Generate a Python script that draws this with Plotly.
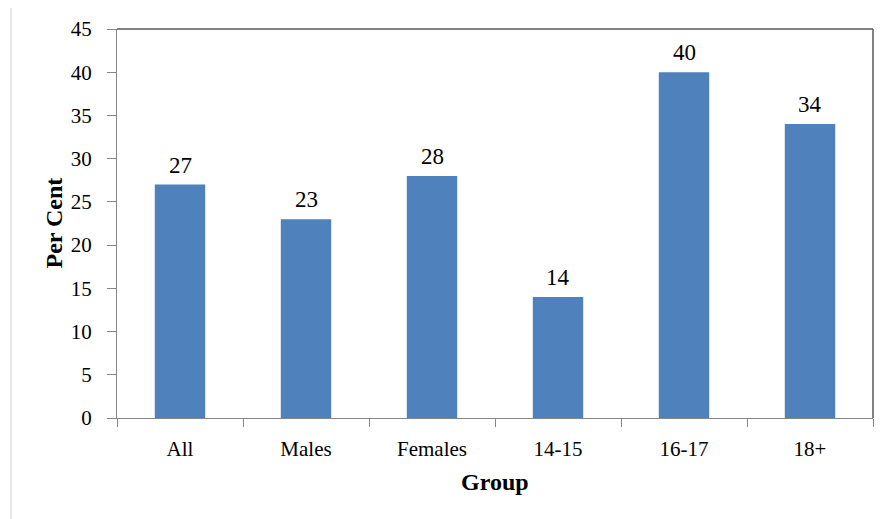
import plotly.graph_objects as go

categories = ["All", "Males", "Females", "14-15", "16-17", "18+"]
values = [27, 23, 28, 14, 40, 34]
y_ticks = [0, 5, 10, 15, 20, 25, 30, 35, 40, 45]

FONT = "Liberation Serif, Times New Roman, serif"
OFF = 8  # default page body margin
W, H = 885 - OFF, 519 - OFF
# plot area in page pixels: x 117..873, y 29..418
ML, MR, MT, MB = 117 - OFF, 885 - 873, 29 - OFF, 519 - 418
PW = W - ML - MR
PH = H - MT - MB

def px_to_paper_x(px):
    return (px - OFF - ML) / PW

def px_to_paper_y(py):
    return (H - MB - (py - OFF)) / PH

fig = go.Figure()
fig.add_trace(go.Bar(
    x=categories, y=values, width=0.4,
    marker=dict(color="#4F81BD", line=dict(width=0)),
    hoverinfo="skip",
))

annotations = []
for c, v in zip(categories, values):
    annotations.append(dict(
        x=c, y=v, xref="x", yref="y", text=str(v), showarrow=False,
        yanchor="bottom", yshift=5, font=dict(family=FONT, size=23, color="black"),
    ))
annotations.append(dict(
    x=px_to_paper_x(53), y=0.5, xref="paper", yref="paper", text="<b>Per Cent</b>",
    showarrow=False, textangle=-90, xanchor="center", yanchor="middle",
    font=dict(family=FONT, size=24, color="black"),
))
annotations.append(dict(
    x=0.5, y=px_to_paper_y(482), xref="paper", yref="paper", text="<b>Group</b>",
    showarrow=False, xanchor="center", yanchor="middle",
    font=dict(family=FONT, size=24, color="black"),
))

shapes = [
    # outer chart frame (light grey)
    dict(type="rect", xref="paper", yref="paper",
         x0=px_to_paper_x(11), x1=px_to_paper_x(885 + 20),
         y0=px_to_paper_y(519 + 20), y1=px_to_paper_y(5),
         line=dict(color="#D0D0D0", width=1), fillcolor="rgba(0,0,0,0)", layer="below"),
    # plot area top and right border
    dict(type="line", xref="paper", yref="paper", x0=0, x1=1, y0=1, y1=1,
         line=dict(color="#595959", width=1.5)),
    dict(type="line", xref="paper", yref="paper", x0=1, x1=1, y0=0, y1=1,
         line=dict(color="#595959", width=1.5)),
]

fig.update_layout(
    width=W, height=H,
    margin=dict(l=ML, r=MR, t=MT, b=MB, autoexpand=False),
    paper_bgcolor="white", plot_bgcolor="white",
    showlegend=False,
    font=dict(family=FONT, size=21, color="black"),
    annotations=annotations, shapes=shapes,
    xaxis=dict(
        type="category", tickson="boundaries", ticks="outside", ticklen=8,
        tickcolor="#868686", showline=True, linecolor="#868686", linewidth=1,
        showgrid=False, tickfont=dict(family=FONT, size=21, color="black"),
        ticklabelstandoff=12, fixedrange=True,
    ),
    yaxis=dict(
        range=[0, 45], tickvals=y_ticks, ticks="outside", ticklen=9,
        tickcolor="#868686", showline=True, linecolor="#868686", linewidth=1,
        showgrid=False, zeroline=False, tickfont=dict(family=FONT, size=21, color="black"),
        ticklabelstandoff=11, fixedrange=True,
    ),
)

fig.write_html("out.html")
